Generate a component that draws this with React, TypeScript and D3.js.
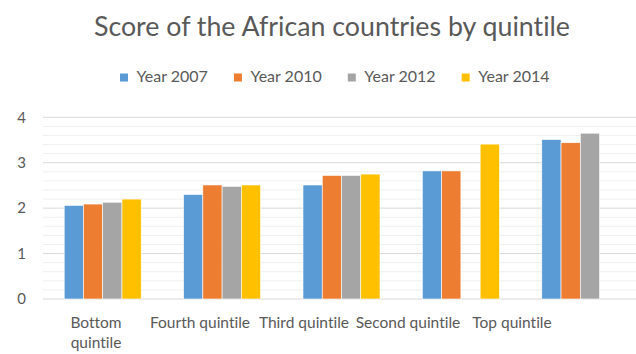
import React from "react";
import * as d3 from "d3";

const categories = ["Bottom quintile", "Fourth quintile", "Third quintile", "Second quintile", "Top quintile"];
const categoryLabelLines = [["Bottom", "quintile"], ["Fourth quintile"], ["Third quintile"], ["Second quintile"], ["Top quintile"]];
const seriesNames = ["Year 2007", "Year 2010", "Year 2012", "Year 2014"];
const year2007 = [2.06, 2.3, 2.51, 2.82, 3.51];
const year2010 = [2.09, 2.51, 2.72, 2.82, 3.44];
const year2012: (number | null)[] = [2.13, 2.48, 2.72, null, 3.65];
const year2014: (number | null)[] = [2.2, 2.51, 2.75, 3.41, null];
const yTicks = [0, 1, 2, 3, 4];
const minorStep = 0.2;
const colors = ["#5B9BD5", "#ED7D31", "#A5A5A5", "#FFC000"];
const title = "Score of the African countries by quintile";

const W = 636;
const H = 354;
const FONT = "Lato, 'Open Sans', sans-serif";
const TEXT = "#595959";

export default function App() {
  const seriesValues = [year2007, year2010, year2012, year2014];
  const y = d3.scaleLinear().domain([0, 4]).range([299, 117.3]);
  const x0 = d3.scaleBand<string>().domain(categories).range([43, 640]).paddingInner(0.355).paddingOuter(0.1775);
  const x1 = d3.scaleBand<string>().domain(seriesNames).range([0, x0.bandwidth()]);
  const xLabel = d3.scaleBand<string>().domain(categories).range([44, 564]);
  const legendX = d3.scaleBand<string>().domain(seriesNames).range([120, 575.6]);
  const minorTicks = d3.range(0, 4 + 1e-9, minorStep).filter((t) => Math.abs(t - Math.round(t)) > 1e-6);

  return (
    <svg width={W} height={H} style={{ position: "absolute", left: 0, top: 0, background: "#fff", fontVariantLigatures: "none" }} fontFamily={FONT}>
      <rect x={0} y={0} width={W} height={H} fill="#fff" />
      <text x={332} y={36} textAnchor="middle" fontSize={26} fill={TEXT} textLength={476} lengthAdjust="spacingAndGlyphs">
        {title}
      </text>
      {seriesNames.map((s, i) => (
        <g key={s} transform={`translate(${legendX(s)},0)`}>
          <rect x={0} y={73.5} width={8} height={8} fill={colors[i]} />
          <text x={16.5} y={81.5} fontSize={16} fill={TEXT}>{s}</text>
        </g>
      ))}
      {minorTicks.map((t) => (
        <line key={"m" + t} x1={43} x2={W} y1={y(t)} y2={y(t)} stroke="#efefef" strokeWidth={1} />
      ))}
      {yTicks.map((t) => (
        <g key={"t" + t}>
          <line x1={43} x2={W} y1={y(t)} y2={y(t)} stroke="#d9d9d9" strokeWidth={1} />
          <text x={26} y={y(t)} dy="0.35em" textAnchor="end" fontSize={15} fill={TEXT}>{t}</text>
        </g>
      ))}
      {categories.map((c, ci) => (
        <g key={c} transform={`translate(${x0(c)},0)`}>
          {seriesNames.map((s, si) => {
            const v = seriesValues[si][ci];
            if (v == null) return null;
            return (
              <rect key={s} x={x1(s)} y={y(v)} width={x1.bandwidth()} height={y(0) - y(v)} fill={colors[si]} stroke="#fff" strokeWidth={0.6} />
            );
          })}
        </g>
      ))}
      {categories.map((c, ci) => (
        <text key={"l" + c} x={(xLabel(c) as number) + xLabel.bandwidth() / 2} y={328} textAnchor="middle" fontSize={15.5} fill={TEXT}>
          {categoryLabelLines[ci].map((line, li) => (
            <tspan key={li} x={(xLabel(c) as number) + xLabel.bandwidth() / 2} dy={li === 0 ? 0 : 20}>{line}</tspan>
          ))}
        </text>
      ))}
    </svg>
  );
}
